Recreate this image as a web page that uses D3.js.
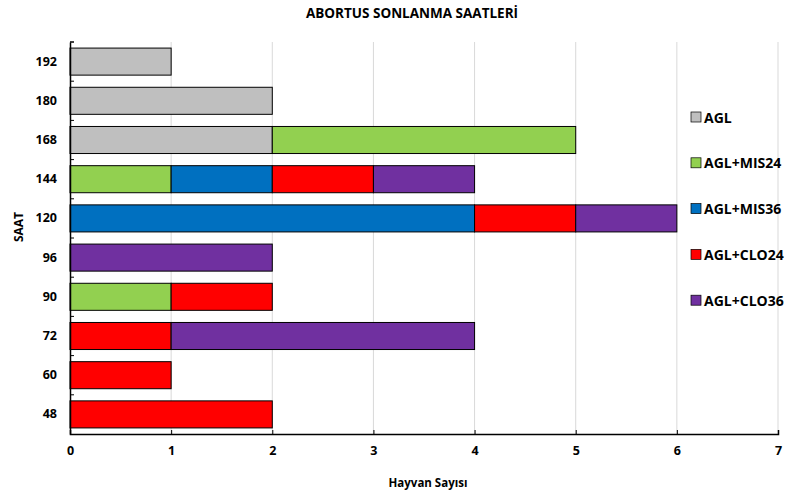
<!DOCTYPE html>
<html><head><meta charset="utf-8">
<script src="https://cdn.jsdelivr.net/npm/d3@7"></script>
<style>body{margin:0;background:#fff}svg{display:block}text{font-family:"Open Sans","Liberation Sans",sans-serif;font-weight:bold}</style>
</head><body><svg id="c" width="786" height="497"></svg>
<script>
const categories = ["192","180","168","144","120","96","90","72","60","48"];
const seriesNames = ["AGL","AGL+MIS24","AGL+MIS36","AGL+CLO24","AGL+CLO36"];
const AGL       = [1,2,2,0,0,0,0,0,0,0];
const AGL_MIS24 = [0,0,3,1,0,0,1,0,0,0];
const AGL_MIS36 = [0,0,0,1,4,0,0,0,0,0];
const AGL_CLO24 = [0,0,0,1,1,0,1,1,1,2];
const AGL_CLO36 = [0,0,0,1,1,2,0,3,0,0];
const xTicks = [0,1,2,3,4,5,6,7];
const colors = ["#BFBFBF","#92D050","#0070C0","#FF0000","#7030A0"];

const seriesVals = [AGL,AGL_MIS24,AGL_MIS36,AGL_CLO24,AGL_CLO36];
const rows = categories.map((c,i)=>{const r={cat:c};seriesNames.forEach((s,j)=>r[s]=seriesVals[j][i]);return r;});
const stack = d3.stack().keys(seriesNames)(rows);

const svg = d3.select("#c");
const m = {l:70,r:8,t:42,b:63};
const W=786,H=497;
const x = d3.scaleLinear().domain([0,7]).range([m.l,W-m.r]);
const y = d3.scaleBand().domain(categories).range([m.t,H-m.b]).paddingInner(0.31).paddingOuter(0.155);

// gridlines
svg.append("g").selectAll("line").data(xTicks.slice(1)).join("line")
 .attr("x1",d=>x(d)).attr("x2",d=>x(d)).attr("y1",m.t).attr("y2",H-m.b)
 .attr("stroke","#d9d9d9").attr("stroke-width",1);

// bars
svg.append("g").selectAll("g").data(stack).join("g").attr("fill",(d,i)=>colors[i])
 .selectAll("rect").data(d=>d.filter(p=>p[1]-p[0]>0)).join("rect")
 .attr("x",d=>x(d[0])).attr("width",d=>x(d[1])-x(d[0]))
 .attr("y",d=>y(d.data.cat)).attr("height",y.bandwidth())
 .attr("stroke","#000").attr("stroke-width",1);

// x axis
const xa = svg.append("g").attr("transform",`translate(0,${H-m.b})`)
 .call(d3.axisBottom(x).tickValues(xTicks).tickSize(-4).tickPadding(12).tickFormat(d3.format("d")));
xa.select(".domain").attr("stroke","#000").attr("stroke-width",1.5);
xa.selectAll(".tick line").attr("stroke","#000");
xa.selectAll("text").attr("font-size",12.5).attr("fill","#000");

// y axis
const ya = svg.append("g").attr("transform",`translate(${m.l},0)`)
 .call(d3.axisLeft(y).tickSize(0).tickPadding(13));
ya.select(".domain").attr("stroke","#000").attr("stroke-width",1.5);
ya.selectAll("text").attr("font-size",12.5).attr("fill","#000");
// boundary ticks
const bounds = categories.map(c=>y(c)-y.step()*y.paddingInner()/2).concat([m.t]);
svg.append("g").selectAll("line").data(bounds).join("line")
 .attr("x1",m.l).attr("x2",m.l+4).attr("y1",d=>d).attr("y2",d=>d).attr("stroke","#000");

// titles
svg.append("text").attr("x",412).attr("y",18).attr("text-anchor","middle").attr("font-size",13.5).text("ABORTUS SONLANMA SAATLERİ");
svg.append("text").attr("x",428).attr("y",487).attr("text-anchor","middle").attr("font-size",11.5).text("Hayvan Sayısı");
svg.append("text").attr("transform","translate(23,227) rotate(-90)").attr("text-anchor","middle").attr("font-size",12).text("SAAT");

// legend
const leg = svg.append("g").selectAll("g").data(seriesNames).join("g")
 .attr("transform",(d,i)=>`translate(691,${117+i*45.8})`);
leg.append("rect").attr("x",0).attr("y",-5).attr("width",10).attr("height",10).attr("fill",(d,i)=>colors[i]).attr("stroke","#000").attr("stroke-width",0.7);
leg.append("text").attr("x",13).attr("y",5.5).attr("font-size",14).text(d=>d);
</script></body></html>
